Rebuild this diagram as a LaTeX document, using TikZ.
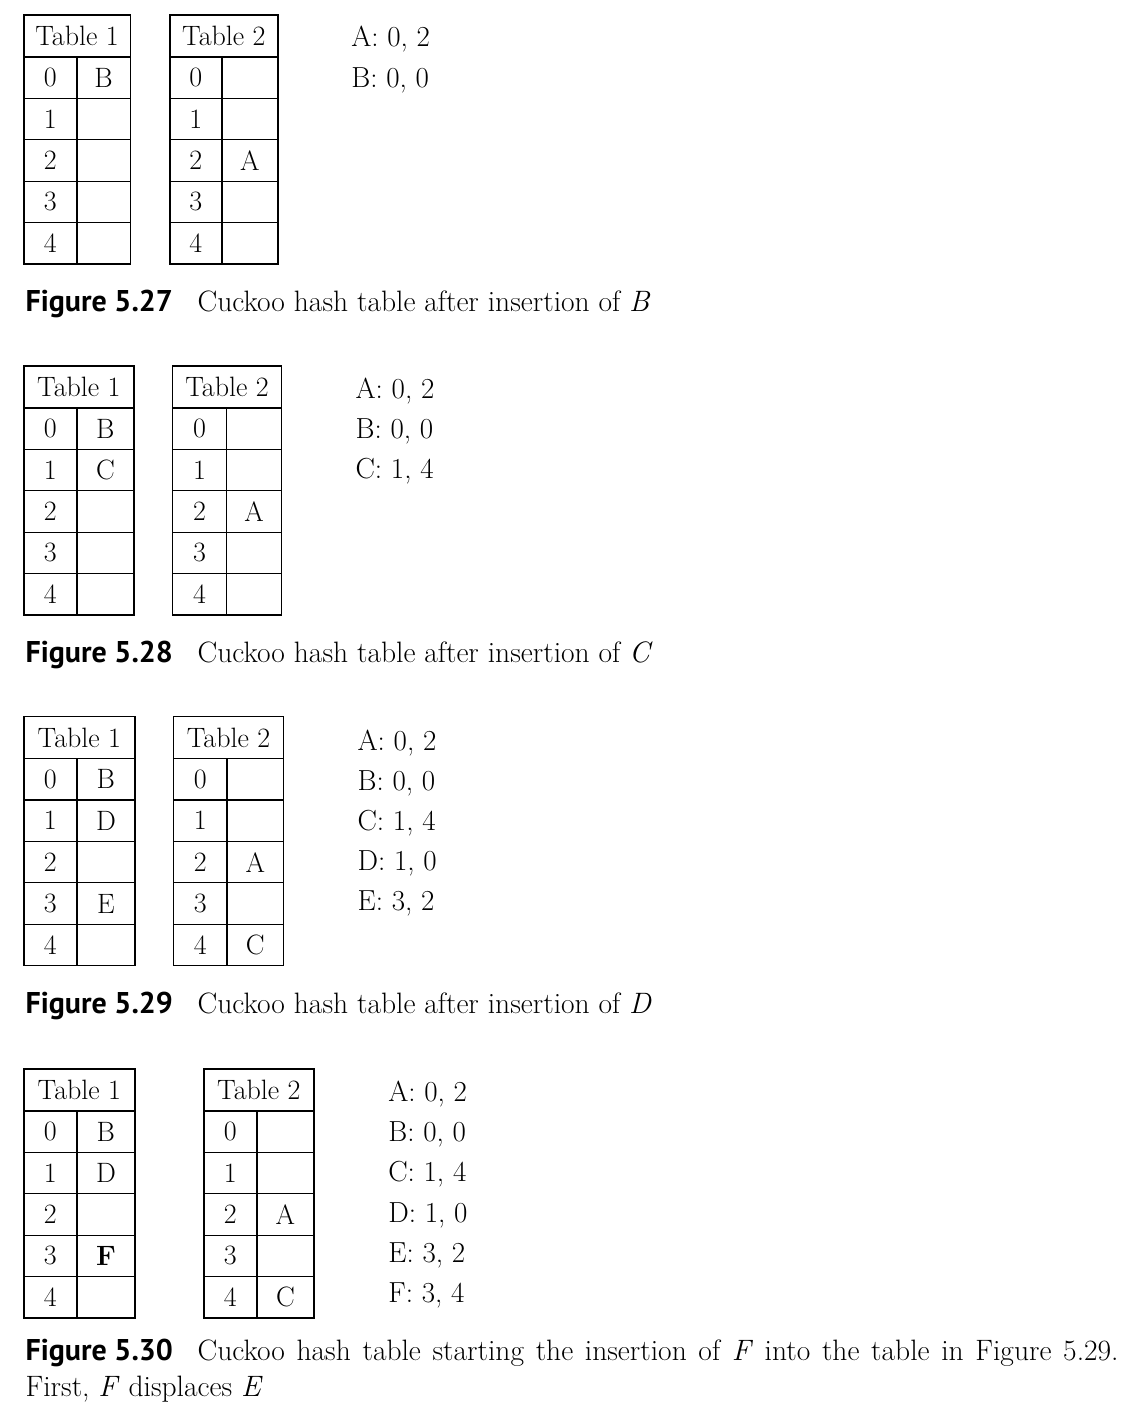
\documentclass[tikz,border=0pt]{standalone}
\usepackage{fontspec}
\newfontfamily\figfont{PT Sans}
% one cuckoo table: name, left x, top y, index width, entry width, title, entries
\newcommand{\hashtab}[7]{%
  \node[headcell,anchor=north west,minimum width=#4+#5] (#1) at (#2,#3) {#6};
  \foreach \v [count=\i from 0] in {#7} {
    \node[cell,anchor=north west,minimum width=#4] (#1-i\i) at (#2,#3+42+\i*41.4) {\i};
    \node[cell,anchor=north west,minimum width=#5] (#1-v\i) at (#2+#4,#3+42+\i*41.4) {\v};
  }
}
% list of keys with their two hash values
\newcommand{\hashkeys}[5]{%
  \foreach \k [count=\j] in {#5} {
    \node[keytext] (#1-k\j) at (#2,#3+\j*#4-#4) {\k};
  }
}
\begin{document}
\begin{tikzpicture}[x=1pt,y=-1pt,line width=1.2pt]
  \tikzset{
    cell/.style={draw,black,inner sep=0pt,minimum height=41.4,font=\fontsize{28}{33}\selectfont},
    headcell/.style={cell,minimum height=42},
    keytext/.style={anchor=base west,inner sep=0pt,font=\fontsize{29}{34}\selectfont},
    figlabel/.style={anchor=base west,inner sep=0pt,font=\figfont\bfseries\fontsize{30}{36}\selectfont},
    figtext/.style={anchor=base west,inner sep=0pt,font=\fontsize{29.5}{35}\selectfont}
  }
  \useasboundingbox (0,0) rectangle (1146,1406);

  % Figure 5.27
  \hashtab{ta}{23.3}{14.3}{53}{53.4}{Table 1}{B,,,,}
  \hashtab{tb}{169.3}{14.3}{52}{56}{Table 2}{,,A,,}
  \hashkeys{ka}{350.7}{46.5}{40.5}{{A: 0, 2},{B: 0, 0}}
  \node[figlabel] (capa) at (25,311) {Figure 5.27};
  \node[figtext] (capat) at (197,311) {Cuckoo hash table after insertion of \textit{B}};

  % Figure 5.28
  \hashtab{tc}{23.3}{365.3}{53}{57}{Table 1}{B,C,,,}
  \hashtab{td}{172}{365.3}{53.7}{55.3}{Table 2}{,,A,,}
  \hashkeys{kb}{355}{398}{40}{{A: 0, 2},{B: 0, 0},{C: 1, 4}}
  \node[figlabel] (capb) at (25,662) {Figure 5.28};
  \node[figtext] (capbt) at (197,662) {Cuckoo hash table after insertion of \textit{C}};

  % Figure 5.29
  \hashtab{te}{23.3}{716}{53}{58}{Table 1}{B,D,,E,}
  \hashtab{tf}{173}{716}{53.3}{56.7}{Table 2}{,,A,,C}
  \hashkeys{kc}{357}{750}{40}{{A: 0, 2},{B: 0, 0},{C: 1, 4},{D: 1, 0},{E: 3, 2}}
  \node[figlabel] (capc) at (25,1013) {Figure 5.29};
  \node[figtext] (capct) at (197,1013) {Cuckoo hash table after insertion of \textit{D}};

  % Figure 5.30
  \hashtab{tg}{23.3}{1068.3}{53}{58}{Table 1}{B,D,,\textbf{F},}
  \hashtab{th}{203.3}{1068.3}{53}{57}{Table 2}{,,A,,C}
  \hashkeys{kd}{387.7}{1101.7}{40.1}{{A: 0, 2},{B: 0, 0},{C: 1, 4},{D: 1, 0},{E: 3, 2},{F: 3, 4}}
  \node[figlabel] (capd) at (25,1360) {Figure 5.30};
  \node[figtext] (capdt) at (197,1360) {\makebox[921pt][s]{Cuckoo hash table starting the insertion of \textit{F} into the table in Figure 5.29.}};
  \node[figtext] (capdu) at (25,1396.7) {First, \textit{F} displaces \textit{E}};
\end{tikzpicture}
\end{document}
